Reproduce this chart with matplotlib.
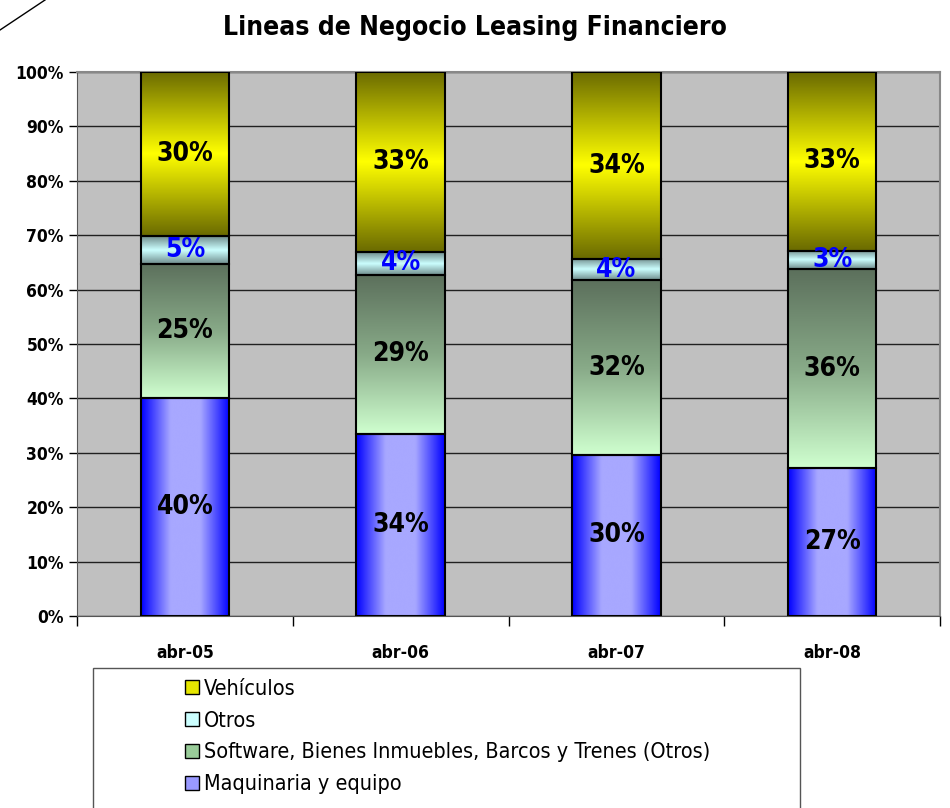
import matplotlib
matplotlib.use("Agg")
import matplotlib.pyplot as plt
import numpy as np
from matplotlib.colors import LinearSegmentedColormap
from matplotlib.patches import Rectangle
from matplotlib.lines import Line2D

plt.rcParams['font.family'] = ['DejaVu Sans']
plt.rcParams['font.stretch'] = 'condensed'

# data (percent of portfolio)
periods = ["abr-05", "abr-06", "abr-07", "abr-08"]
series = ["Maquinaria y equipo",
          "Software, Bienes Inmuebles, Barcos y Trenes (Otros)",
          "Otros",
          "Vehículos"]
maquinaria = [40.1, 33.5, 29.6, 27.2]
software = [24.6, 29.2, 32.1, 36.5]
otros = [5.1, 4.2, 3.9, 3.4]
vehiculos = [30.2, 33.1, 34.4, 32.9]
labels_maq = ["40%", "34%", "30%", "27%"]
labels_soft = ["25%", "29%", "32%", "36%"]
labels_otros = ["5%", "4%", "4%", "3%"]
labels_veh = ["30%", "33%", "34%", "33%"]

stack = [maquinaria, software, otros, vehiculos]
stack_labels = [labels_maq, labels_soft, labels_otros, labels_veh]
label_colors = ["black", "black", "#0000ff", "black"]

# gradient colour maps: (colours, direction)
grads = [
    (["#0000ff", "#a8a8ff", "#a8a8ff", "#0000ff"], "h"),
    (["#5c705c", "#88aa88", "#cfffcf"], "v"),
    (["#6f8c8c", "#ccffff", "#6f8c8c"], "v"),
    (["#6a6a00", "#ffff00", "#6a6a00"], "v"),
]
legend_colors = ["#9999ff", "#99cc99", "#ccffff", "#e6e600"]

fig = plt.figure(figsize=(9.5, 8.08), dpi=100)
ax = fig.add_axes([77 / 950, 1 - 616 / 808, 863 / 950, 544 / 808])
ax.set_facecolor("#c0c0c0")

x = np.arange(len(periods))
width = 0.41
bottom = np.zeros(len(periods))
for vals, labs, lc, (cols, direc) in zip(stack, stack_labels, label_colors, grads):
    vals = np.array(vals)
    bars = ax.bar(x, vals, width, bottom=bottom, facecolor="none",
                  edgecolor="black", linewidth=1.5, zorder=4)
    cmap = LinearSegmentedColormap.from_list("g", cols)
    if direc == "h":
        img = np.linspace(0, 1, 256).reshape(1, -1)
    else:
        img = np.linspace(0, 1, 256).reshape(-1, 1)
    for b in bars:
        x0, y0 = b.get_x(), b.get_y()
        ax.imshow(img, cmap=cmap, aspect="auto", interpolation="bicubic",
                  extent=[x0, x0 + b.get_width(), y0, y0 + b.get_height()],
                  zorder=3)
    for xi, bt, v, t in zip(x, bottom, vals, labs):
        ax.text(xi, bt + v / 2, t, ha="center", va="center", fontsize=19,
                fontweight="bold", color=lc, zorder=5)
    bottom = bottom + vals

ax.set_xlim(-0.5, len(periods) - 0.5)
ax.set_ylim(0, 100)
ax.set_yticks(np.arange(0, 101, 10))
ax.set_yticklabels([f"{v}%" for v in range(0, 101, 10)], fontsize=12.5,
                   fontweight="bold")
ax.set_xticks(x)
ax.set_xticklabels(periods, fontsize=12.5, fontweight="bold")
ax.tick_params(axis="x", length=0, pad=20)
ax.set_xticks(np.arange(-0.5, len(periods), 1), minor=True)
ax.tick_params(axis="x", which="minor", length=7, width=1, direction="out")
ax.tick_params(axis="y", length=6, width=1, direction="out")
ax.yaxis.grid(True, color="#202020", linewidth=1)
ax.set_axisbelow(True)
for s in ["top", "right"]:
    ax.spines[s].set_color("#888888")
    ax.spines[s].set_linewidth(1.5)
for s in ["left", "bottom"]:
    ax.spines[s].set_color("#555555")

fig.suptitle("Lineas de Negocio Leasing Financiero", x=475 / 950, y=0.982,
             fontsize=19, fontweight="bold")

# legend box running off the bottom of the picture
fig.patches.append(Rectangle((93 / 950, -0.05), 707 / 950, 0.05 + 140 / 808,
                             transform=fig.transFigure, facecolor="white",
                             edgecolor="#555555", linewidth=1))
order = [3, 2, 1, 0]
handles = [Rectangle((0, 0), 1, 1, facecolor=legend_colors[i],
                     edgecolor="black", linewidth=1) for i in order]
fig.legend(handles, [series[i] for i in order], loc="upper left",
           bbox_to_anchor=(174 / 950, 1 - 668 / 808), frameon=False,
           fontsize=15.5, handlelength=0.65, handleheight=0.65,
           handletextpad=0.25, labelspacing=0.55, borderpad=0)

# corner line at the top left
fig.lines.append(Line2D([0, 45 / 950], [1 - 30 / 808, 1],
                        transform=fig.transFigure, color="black", linewidth=1))

fig.savefig("out.png", dpi=100)
